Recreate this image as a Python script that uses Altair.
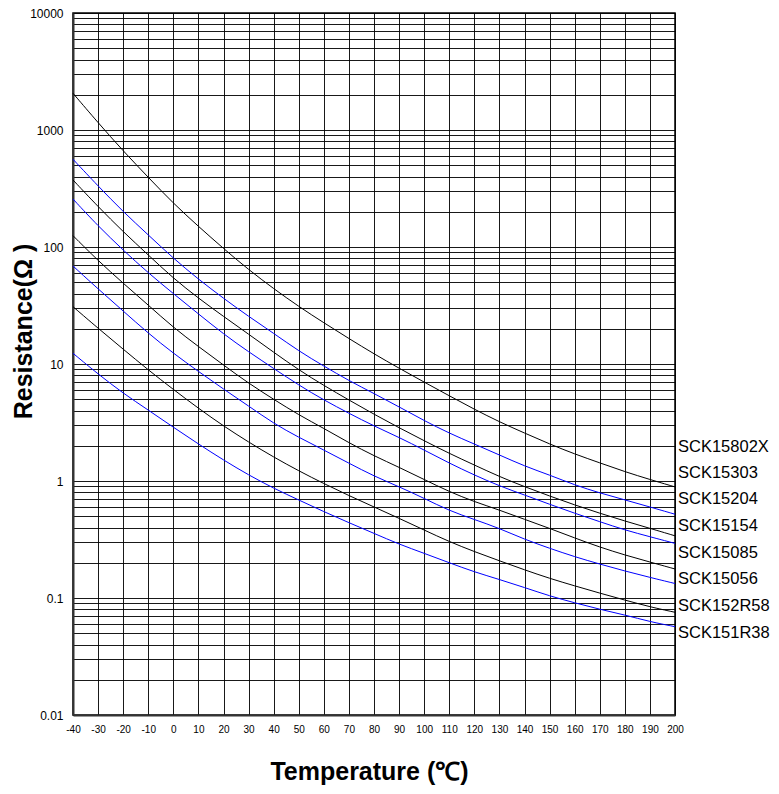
import altair as alt
import pandas as pd

temps = list(range(-40, 201, 10))
names = ["SCK15802X", "SCK15303", "SCK15204", "SCK15154",
         "SCK15085", "SCK15056", "SCK152R58", "SCK151R38"]
line_colors = ["#000000", "#0000ff", "#000000", "#0000ff",
               "#000000", "#0000ff", "#000000", "#0000ff"]

sck15802x = [2060, 1154, 662, 394, 236, 150, 97, 64, 44, 31, 22.5, 16.5, 12.2,
             9.2, 7.0, 5.35, 4.1, 3.2, 2.57, 2.07, 1.70, 1.43, 1.20, 1.03, 0.89]
sck15303 = [562, 332, 200, 127, 80, 53, 36.4, 25.5, 18.3, 12.9, 9.6, 7.2, 5.6,
            4.3, 3.28, 2.56, 2.07, 1.67, 1.34, 1.125, 0.924, 0.79, 0.69, 0.60, 0.52]
sck15204 = [374, 221, 135, 85.5, 54, 36.5, 25.5, 18.0, 12.6, 8.9, 6.55, 4.92, 3.72,
            2.85, 2.21, 1.72, 1.37, 1.09, 0.894, 0.744, 0.624, 0.53, 0.455, 0.394, 0.34]
sck15154 = [257, 151, 94, 60, 40, 26.8, 18.05, 12.7, 9.16, 6.6, 4.92, 3.79, 2.95,
            2.36, 1.84, 1.42, 1.125, 0.906, 0.76, 0.632, 0.53, 0.449, 0.381, 0.334, 0.293]
sck15085 = [125, 76.4, 49, 31.9, 20.5, 14.1, 9.8, 6.84, 4.99, 3.67, 2.82, 2.12, 1.64,
            1.31, 1.03, 0.81, 0.665, 0.565, 0.47, 0.394, 0.326, 0.272, 0.233, 0.203, 0.177]
sck15056 = [68.8, 43.8, 28.4, 18.3, 12.35, 8.63, 6.1, 4.38, 3.1, 2.36, 1.84, 1.42, 1.10,
            0.894, 0.711, 0.557, 0.469, 0.394, 0.317, 0.266, 0.225, 0.195, 0.170, 0.150, 0.133]
sck152r58 = [30.9, 20.2, 13.4, 8.89, 6.06, 4.18, 2.95, 2.15, 1.6, 1.22, 0.95, 0.75, 0.6,
             0.48, 0.381, 0.303, 0.249, 0.208, 0.174, 0.147, 0.127, 0.11, 0.096, 0.084, 0.0755]
sck151r38 = [12.35, 8.2, 5.62, 4.04, 2.88, 2.07, 1.51, 1.125, 0.866, 0.688, 0.547, 0.44, 0.357,
             0.288, 0.241, 0.2, 0.167, 0.144, 0.123, 0.104, 0.091, 0.080, 0.0717, 0.0627, 0.0569]

series_values = [sck15802x, sck15303, sck15204, sck15154,
                 sck15085, sck15056, sck152r58, sck151r38]

# right-hand label anchors (resistance value at which each name sits)
label_anchor = [1.964, 1.177, 0.698, 0.4124, 0.2439, 0.1445, 0.0854, 0.0505]
label_temp = 200

mantissas = [1, 2, 3, 4, 5, 6, 7, 8, 9]
exponents = [-2, -1, 0, 1, 2, 3]
decade_labels = ["0.01", "0.1", "1", "10", "100", "1000", "10000"]

rows = []
for n, vals in zip(names, series_values):
    for t, v in zip(temps, vals):
        rows.append({"series": n, "temp": t, "res": v})
df = pd.DataFrame(rows)

lab = pd.DataFrame({"series": names, "temp": [label_temp] * len(names), "res": label_anchor})

y_ticks = []
for e in exponents:
    for m in mantissas:
        y_ticks.append(round(m * 10 ** e, 6))
y_ticks.append(10000)

FONT = "Liberation Sans"

x_scale = alt.Scale(domain=[-40, 200], nice=False, zero=False)
y_scale = alt.Scale(type="log", domain=[0.01, 10000], nice=False)
color_scale = alt.Scale(domain=names, range=line_colors)

label_expr = "indexof(" + str(decade_labels) + ", datum.label) >= 0 ? datum.label : ''"

x_axis = alt.Axis(
    values=temps, grid=True, gridColor="#000000", gridWidth=1, gridOpacity=0.9,
    ticks=False, tickSize=0, labelPadding=9, labelFontSize=10, labelFont=FONT,
    labelColor="#000000", labelExpr="'' + datum.value", labelOverlap=False,
    domainColor="#333333", domainWidth=2,
    title="Temperature (℃)", titleFont=FONT, titleFontSize=25, titleFontWeight="bold",
    titleColor="#000000", titleX=296, titleY=64, titleBaseline="alphabetic",
    titleAlign="center", labelFlush=False,
)
y_axis = alt.Axis(
    values=y_ticks, grid=True, gridColor="#000000", gridWidth=1, gridOpacity=0.9,
    ticks=False, tickSize=0, labelPadding=10, labelFontSize=12, labelFont=FONT,
    labelColor="#000000", format="~g", labelExpr=label_expr, labelOverlap=False,
    domainColor="#333333", domainWidth=2,
    title="Resistance(Ω )", titleFont=FONT, titleFontSize=25, titleFontWeight="bold",
    titleColor="#000000", titleX=-42, titleY=318, titleAngle=-90,
    titleBaseline="alphabetic", titleAlign="center", labelFlush=False,
)

lines = alt.Chart(df).mark_line(strokeWidth=1, interpolate="basis").encode(
    x=alt.X("temp:Q", scale=x_scale, axis=x_axis),
    y=alt.Y("res:Q", scale=y_scale, axis=y_axis),
    color=alt.Color("series:N", scale=color_scale, legend=None),
    detail="series:N",
)

labels = alt.Chart(lab).mark_text(
    align="left", baseline="middle", dx=3, font=FONT, fontSize=16.5, color="#000000"
).encode(
    x=alt.X("temp:Q", scale=x_scale, axis=x_axis),
    y=alt.Y("res:Q", scale=y_scale, axis=y_axis),
    text="series:N",
)

chart = alt.layer(lines, labels).properties(
    width=602, height=702,
    padding={"left": 65, "top": 5, "right": 96, "bottom": 70},
    autosize=alt.AutoSizeParams(type="none"),
    background="#ffffff",
).configure_view(stroke="#000000", strokeWidth=1.5)

chart.save("out.html", embed_options={"renderer": "svg", "actions": False})
